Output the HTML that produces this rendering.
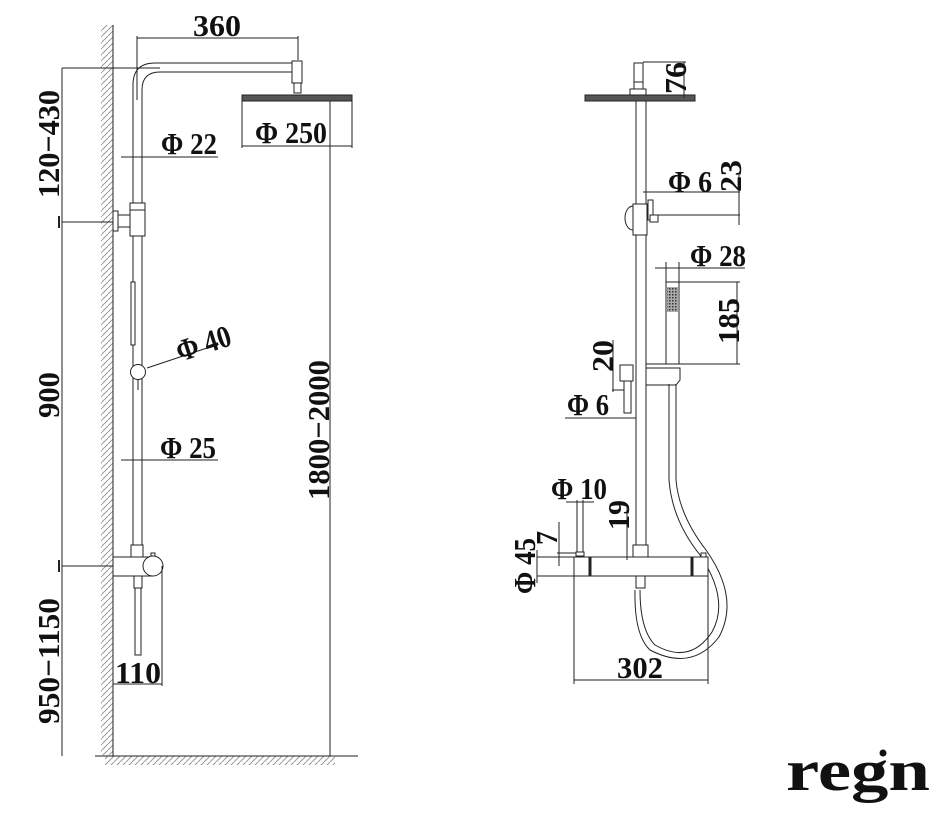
<!DOCTYPE html>
<html><head><meta charset="utf-8"><style>
html,body{margin:0;padding:0;background:#fff;}
svg{display:block}
text{font-family:"Liberation Serif",serif;font-weight:bold;fill:#111;}
</style></head><body>
<svg width="932" height="818" viewBox="0 0 932 818" xmlns="http://www.w3.org/2000/svg">
<defs>
<pattern id="h" width="6" height="6" patternUnits="userSpaceOnUse">
<path d="M0 6 L6 0" stroke="#999" stroke-width="1"/>
</pattern>
<pattern id="m" width="3" height="3" patternUnits="userSpaceOnUse">
<rect width="3" height="3" fill="#aaa"/><rect width="1.5" height="1.5" fill="#333"/>
</pattern>
</defs>
<g stroke="#222" stroke-width="1" fill="none">
<rect x="101" y="25" width="12" height="730" fill="url(#h)" stroke="none"/>
<line x1="113" y1="25" x2="113" y2="757"/>
<rect x="105" y="756" width="230" height="9" fill="url(#h)" stroke="none"/>
<line x1="95" y1="756" x2="358" y2="756"/>
<line x1="62" y1="68" x2="62" y2="756"/>
<line x1="62" y1="68" x2="160" y2="68"/>
<line x1="62" y1="222" x2="113" y2="222"/>
<line x1="62" y1="566" x2="113" y2="566"/>
<g stroke-width="2"><line x1="59" y1="216" x2="59" y2="228"/><line x1="59" y1="560" x2="59" y2="572"/></g>
<path d="M133 548 V85 Q133 63 155 63 H292"/>
<path d="M142 548 V90 Q142 72 160 72 H292"/>
<rect x="292" y="61" width="10" height="22" fill="#fff"/>
<rect x="294" y="83" width="7" height="10" fill="#fff"/>
<rect x="242" y="95" width="110" height="6" fill="#555"/>
<line x1="137" y1="36" x2="137" y2="100"/>
<line x1="298" y1="36" x2="298" y2="60"/>
<line x1="137" y1="38" x2="298" y2="38"/>
<line x1="242" y1="101" x2="242" y2="148"/>
<line x1="352" y1="101" x2="352" y2="148"/>
<line x1="242" y1="146" x2="352" y2="146"/>
<line x1="121" y1="157" x2="218" y2="157"/>
<rect x="113" y="211" width="5" height="20" fill="#fff"/>
<rect x="118" y="215" width="12" height="12" fill="#fff"/>
<rect x="130" y="203" width="15" height="33" fill="#fff"/>
<line x1="130" y1="210" x2="145" y2="210"/>
<rect x="131" y="282" width="4" height="63" fill="#fff"/>
<circle cx="138" cy="372" r="7.5" fill="#fff"/>
<line x1="138" y1="380" x2="138" y2="390"/>
<line x1="147" y1="368" x2="210" y2="347"/>
<line x1="121" y1="460" x2="218" y2="460"/>
<rect x="131" y="545" width="12" height="12" fill="#fff"/>
<rect x="113" y="557" width="40" height="19" fill="#fff"/>
<circle cx="153" cy="566" r="10" fill="#fff"/>
<rect x="151" y="553" width="4" height="3"/>
<rect x="134" y="576" width="8" height="12" fill="#fff"/>
<rect x="135" y="588" width="6" height="67" fill="#fff"/>
<line x1="162" y1="566" x2="162" y2="686"/>
<line x1="113" y1="684" x2="162" y2="684"/>
<line x1="330" y1="101" x2="330" y2="756"/>

<rect x="634" y="63" width="9" height="27" fill="#fff"/>
<line x1="634" y1="82" x2="643" y2="82"/>
<rect x="630" y="89" width="16" height="7" fill="#fff"/>
<rect x="585" y="95" width="110" height="6" fill="#555"/>
<line x1="643" y1="62" x2="686" y2="62"/><line x1="684" y1="62" x2="684" y2="98"/>
<line x1="636" y1="101" x2="636" y2="546"/>
<line x1="646" y1="101" x2="646" y2="546"/>
<path d="M633 206 A8 12 0 0 0 633 230" fill="#fff"/>
<rect x="633" y="204" width="14" height="31" fill="#fff"/>
<rect x="648" y="200" width="5" height="20" fill="#fff"/>
<rect x="650" y="215" width="8" height="7" fill="#fff"/>
<line x1="660" y1="192" x2="740" y2="192"/>
<line x1="658" y1="215" x2="740" y2="215"/>
<line x1="643" y1="192" x2="660" y2="192"/>
<line x1="739" y1="175" x2="739" y2="225"/>
<line x1="655" y1="268" x2="745" y2="268"/>
<line x1="666" y1="262" x2="666" y2="282"/>
<line x1="679" y1="262" x2="679" y2="282"/>
<rect x="666" y="282" width="13" height="82" fill="#fff"/>
<rect x="667" y="287" width="11" height="25" fill="url(#m)" stroke="none"/>
<line x1="679" y1="282" x2="740" y2="282"/>
<line x1="646" y1="364" x2="740" y2="364"/>
<line x1="737" y1="282" x2="737" y2="364"/>
<path d="M646 368 H680 V380 L676 385 H646"/>
<rect x="620" y="365" width="13" height="16" fill="#fff"/>
<rect x="624" y="381" width="7" height="32" fill="#fff"/>
<line x1="613" y1="340" x2="613" y2="392"/>
<line x1="612" y1="390" x2="624" y2="390"/>
<line x1="565" y1="418" x2="636" y2="418"/>
<path d="M669 384 V480 Q672 520 700 555 Q730 600 712 632 Q690 665 655 645 Q640 630 640 590" />
<path d="M676 384 V480 Q679 515 706 550 Q740 598 719 637 Q692 672 650 650 Q634 635 635 590" />
<rect x="574" y="557" width="134" height="19" fill="#fff"/>
<line x1="590" y1="557" x2="590" y2="576" stroke-width="3"/>
<line x1="692" y1="557" x2="692" y2="576" stroke-width="3"/>
<rect x="633" y="545" width="15" height="12" fill="#fff"/>
<rect x="636" y="576" width="9" height="12" fill="#fff"/>
<rect x="701" y="553" width="5" height="4"/>
<line x1="577" y1="500" x2="577" y2="556"/>
<line x1="583" y1="500" x2="583" y2="556"/>
<line x1="566" y1="502" x2="594" y2="502"/>
<rect x="576" y="552" width="8" height="4" fill="#fff"/>
<line x1="559" y1="522" x2="559" y2="566"/>
<line x1="557" y1="553" x2="576" y2="553"/>
<line x1="627" y1="505" x2="627" y2="560"/>
<line x1="537" y1="557" x2="574" y2="557"/>
<line x1="537" y1="576" x2="574" y2="576"/>
<line x1="537" y1="550" x2="537" y2="583"/>
<line x1="574" y1="576" x2="574" y2="684"/>
<line x1="708" y1="576" x2="708" y2="684"/>
<line x1="574" y1="680" x2="708" y2="680"/>
</g>
<g font-size="31">
<text x="193" y="36" textLength="48" lengthAdjust="spacingAndGlyphs">360</text>
<text x="255" y="143" textLength="72" lengthAdjust="spacingAndGlyphs">Φ 250</text>
<text x="161" y="154" textLength="56" lengthAdjust="spacingAndGlyphs">Φ 22</text>
<text transform="translate(180,362) rotate(-18)" textLength="56" lengthAdjust="spacingAndGlyphs">Φ 40</text>
<text x="160" y="458" textLength="56" lengthAdjust="spacingAndGlyphs">Φ 25</text>
<text x="115" y="683" textLength="46" lengthAdjust="spacingAndGlyphs">110</text>
<text transform="translate(59,198) rotate(-90)" textLength="108" lengthAdjust="spacingAndGlyphs">120−430</text>
<text transform="translate(59,418) rotate(-90)" textLength="46" lengthAdjust="spacingAndGlyphs">900</text>
<text transform="translate(59,724) rotate(-90)" textLength="126" lengthAdjust="spacingAndGlyphs">950−1150</text>
<text transform="translate(329,500) rotate(-90)" textLength="140" lengthAdjust="spacingAndGlyphs">1800−2000</text>

<text transform="translate(686,94) rotate(-90)" textLength="32" lengthAdjust="spacingAndGlyphs">76</text>
<text x="668" y="192" textLength="44" lengthAdjust="spacingAndGlyphs">Φ 6</text>
<text transform="translate(741,192) rotate(-90)" textLength="32" lengthAdjust="spacingAndGlyphs">23</text>
<text x="690" y="266" textLength="56" lengthAdjust="spacingAndGlyphs">Φ 28</text>
<text transform="translate(739,344) rotate(-90)" textLength="46" lengthAdjust="spacingAndGlyphs">185</text>
<text transform="translate(613,372) rotate(-90)" textLength="32" lengthAdjust="spacingAndGlyphs">20</text>
<text x="567" y="415" textLength="42" lengthAdjust="spacingAndGlyphs">Φ 6</text>
<text x="551" y="499" textLength="56" lengthAdjust="spacingAndGlyphs">Φ 10</text>
<text transform="translate(629,530) rotate(-90)" textLength="30" lengthAdjust="spacingAndGlyphs">19</text>
<text transform="translate(557,545) rotate(-90)" textLength="14" lengthAdjust="spacingAndGlyphs">7</text>
<text transform="translate(535,594) rotate(-90)" textLength="56" lengthAdjust="spacingAndGlyphs">Φ 45</text>
<text x="617" y="678" textLength="46" lengthAdjust="spacingAndGlyphs">302</text>
</g>
<text x="786" y="790" font-size="58" textLength="144" lengthAdjust="spacingAndGlyphs">regn</text>
<circle cx="883" cy="753" r="3.5" fill="#111"/>
</svg>
</body></html>
